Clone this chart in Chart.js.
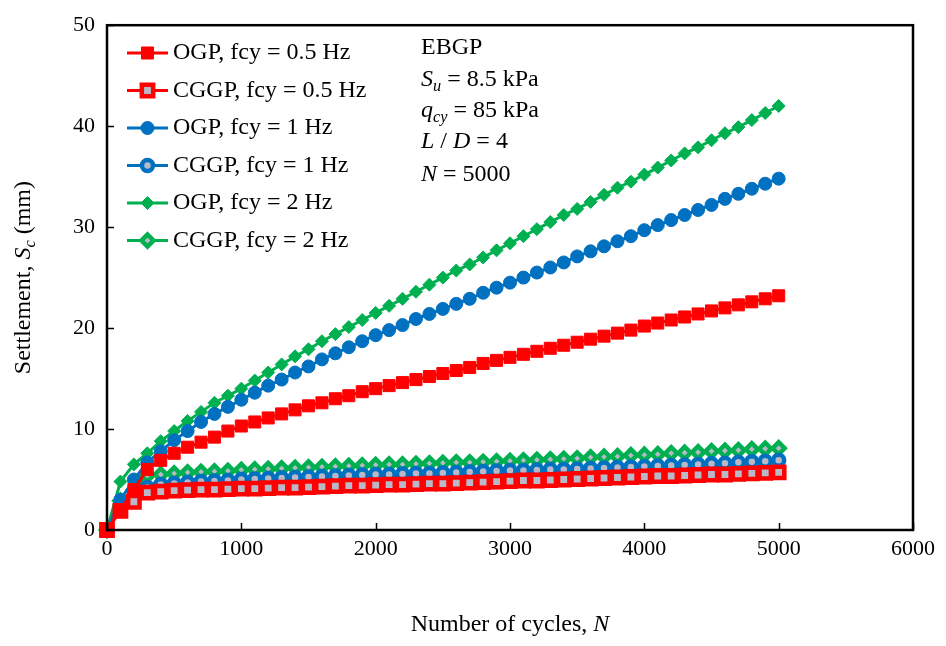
<!DOCTYPE html>
<html>
<head>
<meta charset="utf-8">
<title>Settlement vs number of cycles</title>
<script src="https://cdn.jsdelivr.net/npm/chart.js@4.4.1/dist/chart.umd.min.js"></script>
<style>
  html, body { margin: 0; padding: 0; background: #fff; }
  canvas { display: block; }
</style>
</head>
<body>
<canvas id="settleChart" width="946" height="646"></canvas>
<script>
'use strict';

// ***** DATA *****
const cycles = [
  0, 100, 200, 300, 400, 500, 600, 700, 800, 900,
  1000, 1100, 1200, 1300, 1400, 1500, 1600, 1700, 1800, 1900,
  2000, 2100, 2200, 2300, 2400, 2500, 2600, 2700, 2800, 2900,
  3000, 3100, 3200, 3300, 3400, 3500, 3600, 3700, 3800, 3900,
  4000, 4100, 4200, 4300, 4400, 4500, 4600, 4700, 4800, 4900, 5000
];

const ogpHalfHz = [
  0, 2.0, 4.0, 6.0, 6.9, 7.6, 8.2, 8.7, 9.2, 9.8,
  10.3, 10.7, 11.1, 11.5, 11.9, 12.3, 12.6, 13.0, 13.3, 13.7,
  14.0, 14.3, 14.6, 14.9, 15.2, 15.5, 15.8, 16.1, 16.5, 16.8,
  17.1, 17.4, 17.7, 18.0, 18.3, 18.6, 18.9, 19.2, 19.5, 19.8,
  20.2, 20.5, 20.8, 21.1, 21.4, 21.7, 22.0, 22.3, 22.6, 22.9, 23.2
];
const cggpHalfHz = [
  0, 1.9, 2.8, 3.7, 3.8, 3.9, 3.95, 4.0, 4.0, 4.05,
  4.1, 4.1, 4.15, 4.2, 4.2, 4.25, 4.3, 4.35, 4.4, 4.4,
  4.45, 4.5, 4.5, 4.55, 4.6, 4.6, 4.65, 4.7, 4.75, 4.8,
  4.85, 4.9, 4.9, 4.95, 5.0, 5.05, 5.1, 5.15, 5.2, 5.25,
  5.3, 5.35, 5.35, 5.4, 5.45, 5.5, 5.5, 5.55, 5.6, 5.65, 5.7
];
const ogpOneHz = [
  0, 3.0, 5.0, 6.7, 7.8, 8.9, 9.8, 10.7, 11.5, 12.2,
  12.9, 13.6, 14.3, 14.9, 15.6, 16.2, 16.9, 17.5, 18.1, 18.7,
  19.3, 19.8, 20.3, 20.9, 21.4, 21.9, 22.4, 22.9, 23.5, 24.0,
  24.5, 25.0, 25.5, 26.0, 26.5, 27.1, 27.6, 28.1, 28.6, 29.1,
  29.7, 30.2, 30.7, 31.2, 31.7, 32.2, 32.8, 33.3, 33.8, 34.3, 34.8
];
const cggpOneHz = [
  0, 2.4, 3.3, 4.2, 4.5, 4.6, 4.7, 4.8, 4.85, 4.9,
  5.0, 5.05, 5.1, 5.15, 5.2, 5.25, 5.3, 5.35, 5.4, 5.45,
  5.5, 5.5, 5.55, 5.6, 5.6, 5.65, 5.7, 5.75, 5.8, 5.85,
  5.9, 5.9, 5.95, 6.0, 6.0, 6.05, 6.1, 6.15, 6.2, 6.25,
  6.3, 6.35, 6.4, 6.45, 6.5, 6.55, 6.6, 6.7, 6.75, 6.8, 6.9
];
const ogpTwoHz = [
  0, 4.8, 6.5, 7.6, 8.8, 9.8, 10.8, 11.7, 12.6, 13.3,
  14.0, 14.8, 15.6, 16.4, 17.2, 17.9, 18.7, 19.4, 20.1, 20.8,
  21.5, 22.2, 22.9, 23.6, 24.3, 25.0, 25.7, 26.3, 27.0, 27.7,
  28.4, 29.1, 29.8, 30.5, 31.2, 31.8, 32.5, 33.2, 33.9, 34.5,
  35.2, 35.9, 36.6, 37.3, 37.9, 38.6, 39.3, 39.9, 40.6, 41.3, 42.0
];
const cggpTwoHz = [
  0, 2.9, 3.9, 5.4, 5.5, 5.6, 5.7, 5.75, 5.8, 5.85,
  5.95, 6.0, 6.05, 6.1, 6.15, 6.2, 6.25, 6.3, 6.35, 6.4,
  6.45, 6.5, 6.5, 6.55, 6.6, 6.65, 6.7, 6.7, 6.75, 6.8,
  6.85, 6.9, 6.95, 7.0, 7.05, 7.1, 7.2, 7.25, 7.3, 7.4,
  7.45, 7.5, 7.6, 7.65, 7.7, 7.8, 7.85, 7.9, 8.0, 8.05, 8.1
];

const seriesLabels = [
  'OGP, fcy = 0.5 Hz', 'CGGP, fcy = 0.5 Hz',
  'OGP, fcy = 1 Hz', 'CGGP, fcy = 1 Hz',
  'OGP, fcy = 2 Hz', 'CGGP, fcy = 2 Hz'
];
const xTicks = [0, 1000, 2000, 3000, 4000, 5000, 6000];
const yTicks = [0, 10, 20, 30, 40, 50];

// ***** STYLE *****
const RED = '#ff0000';
const BLUE = '#0070c0';
const GREEN = '#00b050';
const HOLLOW = '#b8b8c8';
const SERIF = '"Liberation Serif", "Times New Roman", serif';
const TEXT_SIZE = 24;

function toPoints(values) {
  return values.map((v, i) => ({ x: cycles[i], y: v }));
}

function makeSeries(label, values, color, style, radius, open) {
  return {
    label: label,
    data: toPoints(values),
    borderColor: color,
    backgroundColor: color,
    borderWidth: 3,
    pointStyle: style,
    pointRadius: radius,
    pointHoverRadius: radius,
    pointBackgroundColor: open ? HOLLOW : color,
    pointBorderColor: color,
    pointBorderWidth: open ? 4.5 : 1,
    showLine: true,
    tension: 0,
    clip: false
  };
}

const datasets = [
  makeSeries(seriesLabels[0], ogpHalfHz, RED, 'rect', 8.5, false),
  makeSeries(seriesLabels[1], cggpHalfHz, RED, 'rect', 8, true),
  makeSeries(seriesLabels[2], ogpOneHz, BLUE, 'circle', 6.5, false),
  makeSeries(seriesLabels[3], cggpOneHz, BLUE, 'circle', 5.5, true),
  makeSeries(seriesLabels[4], ogpTwoHz, GREEN, 'rectRot', 6.5, false),
  makeSeries(seriesLabels[5], cggpTwoHz, GREEN, 'rectRot', 6, true)
];

// ***** HELPERS *****

// text made of runs with plain / italic / subscript parts
function runsWidth(ctx, runs, size) {
  let w = 0;
  runs.forEach(r => {
    const s = r.sub ? size * 0.68 : size;
    ctx.font = (r.italic ? 'italic ' : '') + s + 'px ' + SERIF;
    w += ctx.measureText(r.t).width;
  });
  return w;
}

function drawRuns(ctx, runs, x, y, size) {
  let cx = x;
  ctx.textBaseline = 'middle';
  ctx.textAlign = 'left';
  ctx.fillStyle = '#000';
  runs.forEach(r => {
    const s = r.sub ? size * 0.68 : size;
    ctx.font = (r.italic ? 'italic ' : '') + s + 'px ' + SERIF;
    ctx.fillText(r.t, cx, r.sub ? y + size * 0.3 : y);
    cx += ctx.measureText(r.t).width;
  });
}

function drawMarker(ctx, ds, x, y) {
  const r = ds.pointRadius;
  ctx.save();
  ctx.beginPath();
  if (ds.pointStyle === 'rect') {
    const h = r * Math.SQRT1_2;
    ctx.rect(x - h, y - h, 2 * h, 2 * h);
  } else if (ds.pointStyle === 'circle') {
    ctx.arc(x, y, r, 0, Math.PI * 2);
  } else {
    ctx.moveTo(x, y - r);
    ctx.lineTo(x + r, y);
    ctx.lineTo(x, y + r);
    ctx.lineTo(x - r, y);
    ctx.closePath();
  }
  ctx.fillStyle = ds.pointBackgroundColor;
  ctx.fill();
  ctx.lineWidth = ds.pointBorderWidth;
  ctx.strokeStyle = ds.pointBorderColor;
  ctx.stroke();
  ctx.restore();
}

// ***** PLUGINS *****

// frame round the plot with short ticks pointing inwards
const framePlugin = {
  id: 'frame',
  afterDatasetsDraw(chart) {
    const ctx = chart.ctx;
    const a = chart.chartArea;
    const xs = chart.scales.x;
    const ys = chart.scales.y;
    ctx.save();
    ctx.strokeStyle = '#000';
    ctx.lineWidth = 1.5;
    ctx.beginPath();
    xTicks.forEach(t => {
      const px = Math.round(xs.getPixelForValue(t)) + 0.5;
      ctx.moveTo(px, a.bottom);
      ctx.lineTo(px, a.bottom - 7);
    });
    yTicks.forEach(t => {
      const py = Math.round(ys.getPixelForValue(t)) + 0.5;
      ctx.moveTo(a.left, py);
      ctx.lineTo(a.left + 7, py);
    });
    ctx.stroke();
    ctx.lineWidth = 2.5;
    ctx.strokeRect(a.left, a.top, a.right - a.left, a.bottom - a.top);
    ctx.restore();
  }
};

// legend, notes and axis titles
const textPlugin = {
  id: 'texts',
  afterDraw(chart) {
    const ctx = chart.ctx;
    const a = chart.chartArea;
    ctx.save();

    // legend
    chart.data.datasets.forEach((ds, i) => {
      const y = 53 + i * 37.5;
      ctx.strokeStyle = ds.borderColor;
      ctx.lineWidth = 3;
      ctx.beginPath();
      ctx.moveTo(127, y);
      ctx.lineTo(168, y);
      ctx.stroke();
      drawMarker(ctx, ds, 147.5, y);
      drawRuns(ctx, [{ t: ds.label }], 173, y, TEXT_SIZE);
    });

    // test conditions
    const nx = 421;
    drawRuns(ctx, [{ t: 'EBGP' }], nx, 48, TEXT_SIZE);
    drawRuns(ctx, [{ t: 'S', italic: true }, { t: 'u', italic: true, sub: true }, { t: ' = 8.5 kPa' }], nx, 80, TEXT_SIZE);
    drawRuns(ctx, [{ t: 'q', italic: true }, { t: 'cy', italic: true, sub: true }, { t: ' = 85 kPa' }], nx, 111, TEXT_SIZE);
    drawRuns(ctx, [{ t: 'L', italic: true }, { t: ' / ' }, { t: 'D', italic: true }, { t: ' = 4' }], nx, 142, TEXT_SIZE);
    drawRuns(ctx, [{ t: 'N', italic: true }, { t: ' = 5000' }], nx, 175, TEXT_SIZE);

    // x axis title
    const xRuns = [{ t: 'Number of cycles, ' }, { t: 'N', italic: true }];
    const xw = runsWidth(ctx, xRuns, TEXT_SIZE);
    drawRuns(ctx, xRuns, (a.left + a.right) / 2 - xw / 2, 625, TEXT_SIZE);

    // y axis title
    const yRuns = [{ t: 'Settlement, ' }, { t: 'S', italic: true }, { t: 'c', italic: true, sub: true }, { t: ' (mm)' }];
    const yw = runsWidth(ctx, yRuns, TEXT_SIZE);
    ctx.translate(24, (a.top + a.bottom) / 2);
    ctx.rotate(-Math.PI / 2);
    drawRuns(ctx, yRuns, -yw / 2, 0, TEXT_SIZE);

    ctx.restore();
  }
};

// ***** CHART *****
let ctx = document.getElementById('settleChart').getContext('2d');

new Chart(ctx, {
  type: 'scatter',
  data: { datasets: datasets },
  options: {
    responsive: false,
    animation: false,
    devicePixelRatio: 1,
    layout: { padding: { top: 19, right: 33, left: 0, bottom: 0 } },
    plugins: {
      legend: { display: false },
      tooltip: { enabled: false },
      title: { display: false }
    },
    scales: {
      x: {
        type: 'linear',
        min: 0,
        max: 6000,
        afterFit(scale) { scale.height = 116; },
        afterBuildTicks(scale) { scale.ticks = xTicks.map(v => ({ value: v })); },
        grid: { display: false, drawTicks: false },
        border: { display: false },
        ticks: {
          color: '#000',
          padding: 6,
          font: { family: SERIF, size: 22 },
          maxRotation: 0,
          callback: v => String(v)
        }
      },
      y: {
        type: 'linear',
        min: 0,
        max: 50,
        afterFit(scale) { scale.width = 107; },
        afterBuildTicks(scale) { scale.ticks = yTicks.map(v => ({ value: v })); },
        grid: { display: false, drawTicks: false },
        border: { display: false },
        ticks: {
          color: '#000',
          padding: 12,
          font: { family: SERIF, size: 22 },
          callback: v => String(v)
        }
      }
    }
  },
  plugins: [framePlugin, textPlugin]
});
</script>
</body>
</html>
